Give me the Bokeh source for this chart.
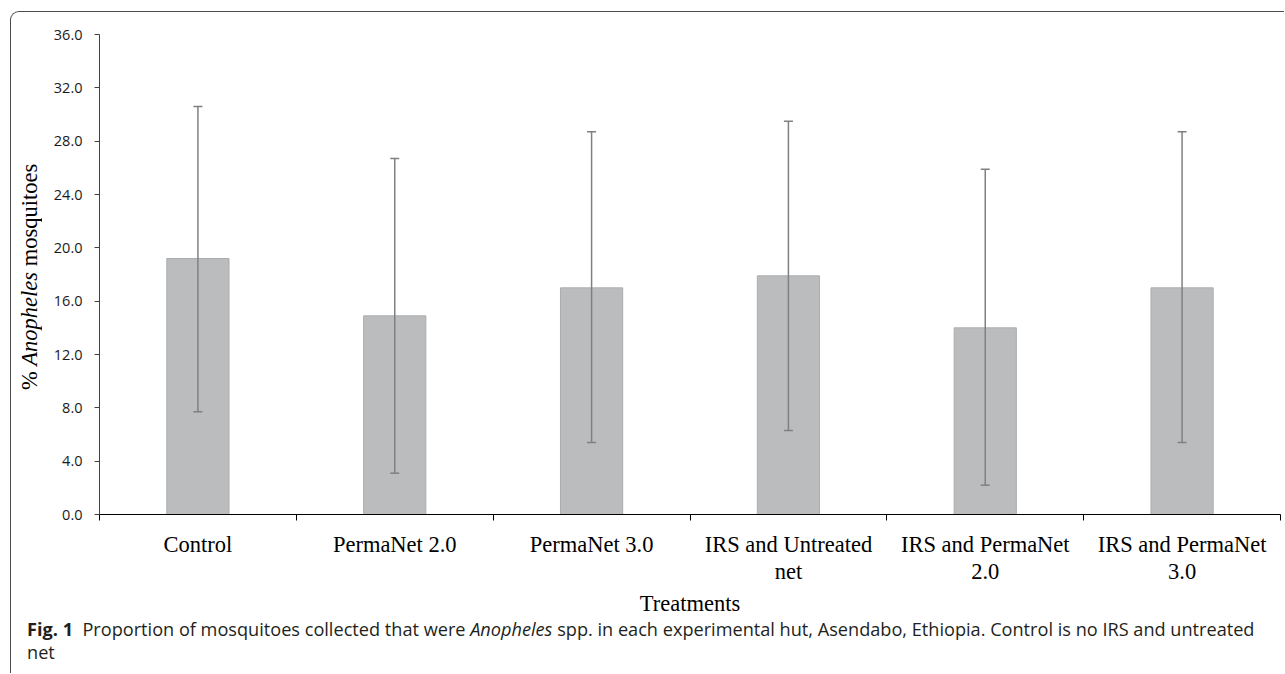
from bokeh.plotting import figure
from bokeh.models import (ColumnDataSource, Range1d, FixedTicker, NumeralTickFormatter,
                          Whisker, TeeHead, LinearAxis, Div)
from bokeh.layouts import column, row
from bokeh.embed import file_html
from bokeh.resources import INLINE

# ---------------- data ----------------
treatments = ["Control", "PermaNet 2.0", "PermaNet 3.0",
              "IRS and Untreated\nnet", "IRS and PermaNet\n2.0", "IRS and PermaNet\n3.0"]
mean_pct = [19.2, 14.9, 17.0, 17.9, 14.0, 17.0]
upper_ci = [30.6, 26.7, 28.7, 29.5, 25.9, 28.7]
lower_ci = [7.7, 3.1, 5.4, 6.3, 2.2, 5.4]
y_ticks = [0, 4, 8, 12, 16, 20, 24, 28, 32, 36]
y_title_html = "% <i>Anopheles</i> mosquitoes"
x_title = "Treatments"

# ---------------- layout constants ----------------
TW = 37                     # width of the rotated y-title block
W, H = 1236, 606
ML, MR, MT, MB = 51, 4, 22, 101
n = len(treatments)
y_max = y_ticks[-1]

SERIF = "Liberation Serif"
SANS = "Open Sans"

xs = [i + 0.5 for i in range(n)]
src = ColumnDataSource(dict(x=xs, mean=mean_pct, upper=upper_ci, lower=lower_ci))

p = figure(width=W, height=H, output_backend="svg", toolbar_location=None,
           x_range=Range1d(0, n), y_range=Range1d(0, y_max),
           min_border_left=ML, min_border_right=MR, min_border_top=MT, min_border_bottom=MB,
           background_fill_color="white", border_fill_color="white", margin=(0, 0, 0, 0))
p.outline_line_color = None
p.grid.grid_line_color = None

p.vbar(x="x", top="mean", bottom=0, width=0.316, source=src,
       fill_color="#BBBCBE", line_color="#ABACAE", line_width=1)

wh = Whisker(base="x", upper="upper", lower="lower", source=src, dimension="height",
             line_color="#808080", line_width=1.5, level="overlay",
             upper_head=TeeHead(size=9, line_color="#808080", line_width=1.5),
             lower_head=TeeHead(size=9, line_color="#808080", line_width=1.5))
p.add_layout(wh)

# y axis
ya = p.yaxis[0]
ya.ticker = FixedTicker(ticks=y_ticks)
ya.formatter = NumeralTickFormatter(format="0.0")
ya.major_tick_out = 5
ya.major_tick_in = 0
ya.minor_tick_line_color = None
ya.axis_line_color = "#404040"
ya.major_tick_line_color = "#404040"
ya.major_label_text_font = SANS
ya.major_label_text_font_size = "14.5px"
ya.major_label_text_color = "#1a1a1a"
ya.major_label_standoff = 12

# x axis: boundary ticks, no labels
xa = p.xaxis[0]
xa.ticker = FixedTicker(ticks=list(range(n + 1)))
xa.major_label_overrides = {i: "" for i in range(n + 1)}
xa.major_label_standoff = 0
xa.major_tick_out = 6
xa.major_tick_in = 0
xa.minor_tick_line_color = None
xa.axis_line_color = "#000000"
xa.major_tick_line_color = "#000000"

# second x axis: category names at centres + title
xa2 = LinearAxis(ticker=FixedTicker(ticks=xs),
                 major_label_overrides={x: t for x, t in zip(xs, treatments)})
xa2.axis_line_color = None
xa2.major_tick_line_color = None
xa2.minor_tick_line_color = None
xa2.major_tick_out = 0
xa2.major_tick_in = 0
xa2.major_label_standoff = 11
xa2.major_label_text_font = SERIF
xa2.major_label_text_font_size = "22.5px"
xa2.major_label_text_color = "#000000"
xa2.major_label_text_line_height = 1.08
xa2.axis_label = x_title
xa2.axis_label_text_font = SERIF
xa2.axis_label_text_font_size = "22.5px"
xa2.axis_label_text_font_style = "normal"
xa2.axis_label_text_color = "#000000"
xa2.axis_label_standoff = 4
p.add_layout(xa2, "below")

ytitle = Div(
    text=('<div style="width:%dpx;height:530px;writing-mode:vertical-rl;transform:rotate(180deg);'
          'text-align:center;font-family:\'Liberation Serif\';font-size:22.5px;line-height:%dpx;'
          'white-space:nowrap;color:#000;">%s</div>') % (TW, TW, y_title_html),
    width=TW, height=H, margin=(0, 0, 0, 0))

caption_html = (
    '<div style="font-family:\'Open Sans\'; font-size:18.15px; line-height:23px; color:#231f20; '
    'padding-left:16px; white-space:nowrap;">'
    '<b>Fig. 1</b>&nbsp;&nbsp;Proportion of mosquitoes collected that were <i>Anopheles</i> spp. '
    'in each experimental hut, Asendabo, Ethiopia. Control is no IRS and untreated<br>net</div>'
)
cap = Div(text=caption_html, width=TW + W, height=55, margin=(0, 0, 0, 0))

layout = column(row(ytitle, p, spacing=0, margin=(0, 0, 0, 0)), cap,
                margin=(11, 0, 0, 10), spacing=0,
                styles={"border-left": "1px solid #4d4d4d",
                        "border-top": "1px solid #4d4d4d",
                        "border-top-left-radius": "9px"})

open("out.html", "w").write(file_html(layout, INLINE))
